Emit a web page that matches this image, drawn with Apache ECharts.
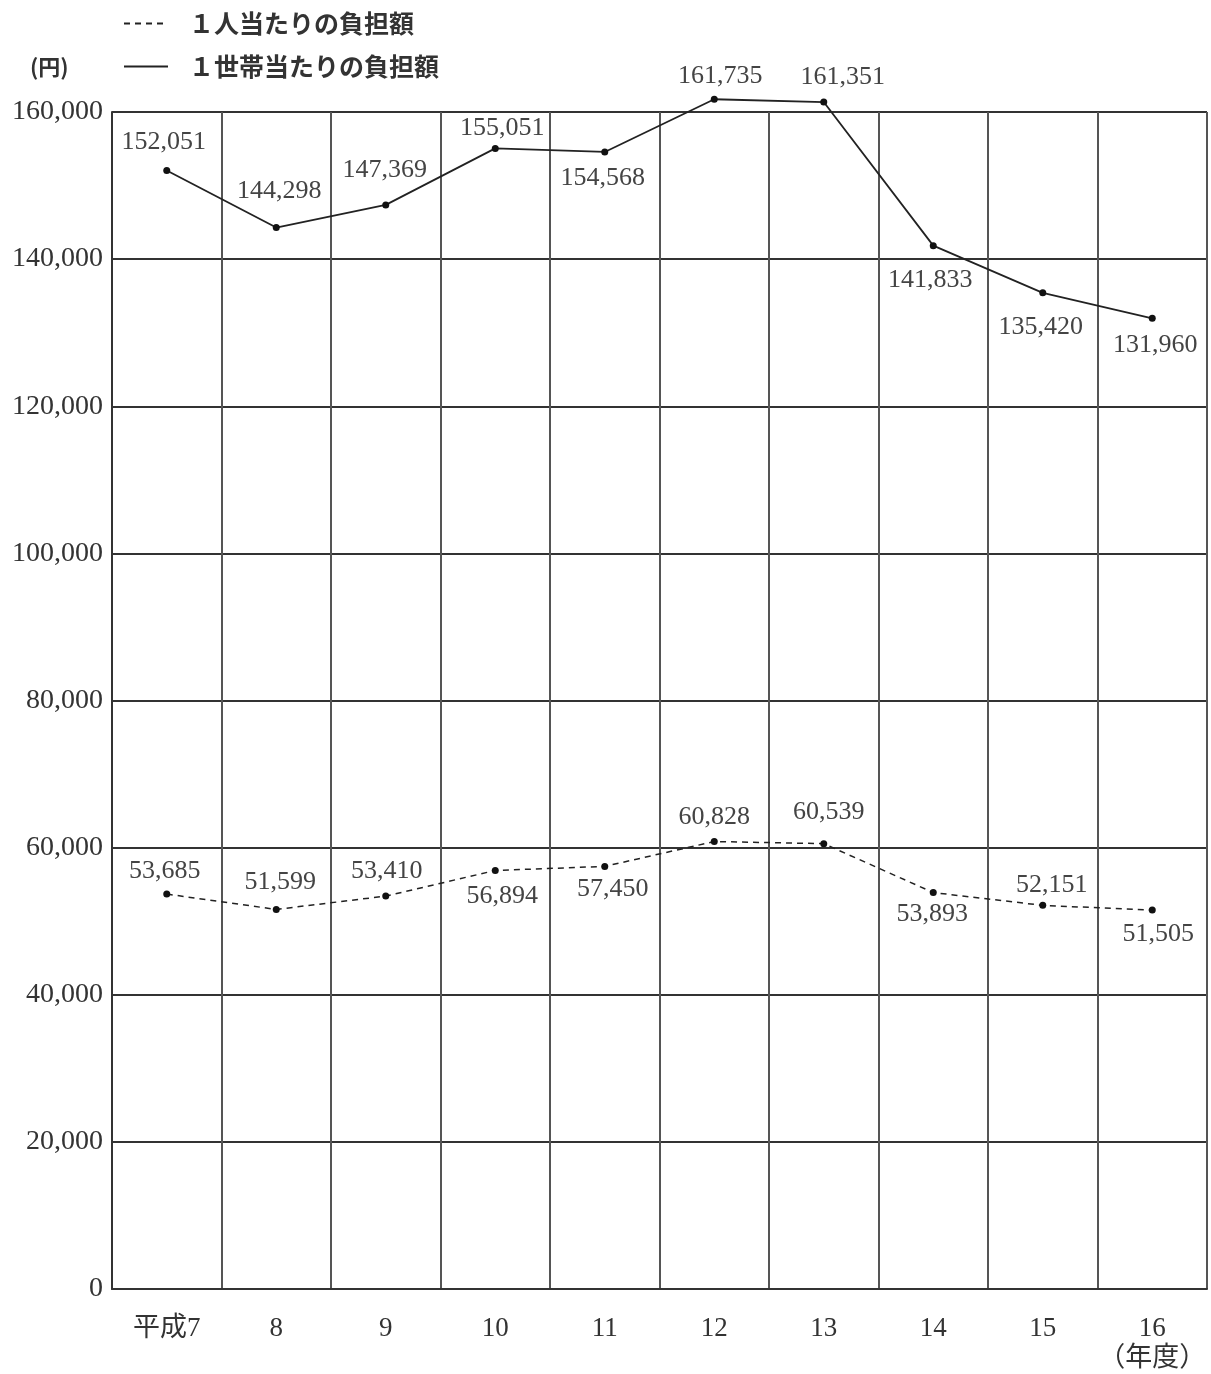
<!DOCTYPE html>
<html>
<head>
<meta charset="utf-8">
<script src="https://cdn.jsdelivr.net/npm/echarts@6/dist/echarts.min.js"></script>
<style>
  html, body { margin: 0; padding: 0; background: #fff; }
  #chart { width: 1211px; height: 1374px; }
</style>
</head>
<body>
<div id="chart"></div>
<script>
// Fiscal years (平成7〜16年度)
const years = ['平成7', '8', '9', '10', '11', '12', '13', '14', '15', '16'];
// Burden per household (円)
const perHousehold = [152051, 144298, 147369, 155051, 154568, 161735, 161351, 141833, 135420, 131960];
// Burden per person (円)
const perPerson = [53685, 51599, 53410, 56894, 57450, 60828, 60539, 53893, 52151, 51505];
// Value axis ticks
const yMin = 0, yMax = 160000, yStep = 20000;

// Label placement around each point: [dx, dy] from the point centre
const householdLabelOffset = [[-3, -28], [3, -36], [-1, -35], [7, -20], [-2, 26], [6, -23], [19, -25], [-3, 35], [-2, 34], [3, 27]];
const personLabelOffset = [[-2, -23], [4, -27], [1, -25], [7, 26], [8, 23], [0, -24], [5, -31], [-1, 22], [9, -20], [6, 24]];

const serif = '"Liberation Serif", "DejaVu Serif", "Noto Sans CJK JP", serif';
const fmt = v => v.toLocaleString('en-US');

function withLabels(values, offsets) {
  return values.map((v, i) => ({
    value: v,
    label: { position: 'inside', offset: offsets[i] }
  }));
}

const chart = echarts.init(document.getElementById('chart'), null, { renderer: 'canvas' });

const seriesLabel = {
  show: true,
  fontFamily: serif,
  fontSize: 26,
  color: '#444',
  formatter: p => fmt(p.value)
};

chart.setOption({
  backgroundColor: '#ffffff',
  animation: false,
  grid: { left: 112, right: 4, top: 112, bottom: 82, containLabel: false },
  legend: {
    orient: 'vertical',
    left: 118,
    top: 6,
    itemWidth: 44,
    itemHeight: 12,
    itemGap: 18,
    itemStyle: { opacity: 0 },
    textStyle: {
      fontFamily: '"Noto Sans CJK JP", sans-serif',
      fontWeight: 'bold',
      fontSize: 25,
      color: '#333',
      padding: [0, 0, 0, 16]
    },
    data: ['１人当たりの負担額', '１世帯当たりの負担額']
  },
  graphic: [{
    type: 'text',
    left: 30,
    top: 56,
    style: { text: '(円)', font: 'bold 22px "Noto Sans CJK JP", sans-serif', fill: '#333' }
  }],
  xAxis: {
    type: 'category',
    data: years,
    boundaryGap: true,
    axisLine: { show: true, lineStyle: { color: '#333', width: 2 } },
    axisTick: { show: false },
    splitLine: { show: true, interval: 0, lineStyle: { color: '#555', width: 2 } },
    axisLabel: {
      interval: 0,
      margin: 25,
      fontFamily: serif,
      fontSize: 27,
      lineHeight: 30,
      color: '#333',
      formatter: (v, i) => i === years.length - 1 ? v + '\n（年度）' : v
    }
  },
  yAxis: {
    type: 'value',
    min: yMin,
    max: yMax,
    interval: yStep,
    axisLine: { show: true, lineStyle: { color: '#333', width: 2 } },
    axisTick: { show: false },
    splitLine: { show: true, lineStyle: { color: '#333', width: 2 } },
    axisLabel: {
      margin: 9,
      fontFamily: serif,
      fontSize: 28,
      color: '#333',
      formatter: v => fmt(v)
    }
  },
  series: [
    {
      name: '１人当たりの負担額',
      type: 'line',
      clip: false,
      data: withLabels(perPerson, personLabelOffset),
      symbol: 'circle',
      symbolSize: 7,
      itemStyle: { color: '#111' },
      lineStyle: { color: '#222', width: 1.5, type: [6, 5] },
      label: seriesLabel,
      z: 3
    },
    {
      name: '１世帯当たりの負担額',
      type: 'line',
      clip: false,
      data: withLabels(perHousehold, householdLabelOffset),
      symbol: 'circle',
      symbolSize: 7,
      itemStyle: { color: '#111' },
      lineStyle: { color: '#222', width: 1.8, type: 'solid' },
      label: seriesLabel,
      z: 3
    }
  ]
});
</script>
</body>
</html>
